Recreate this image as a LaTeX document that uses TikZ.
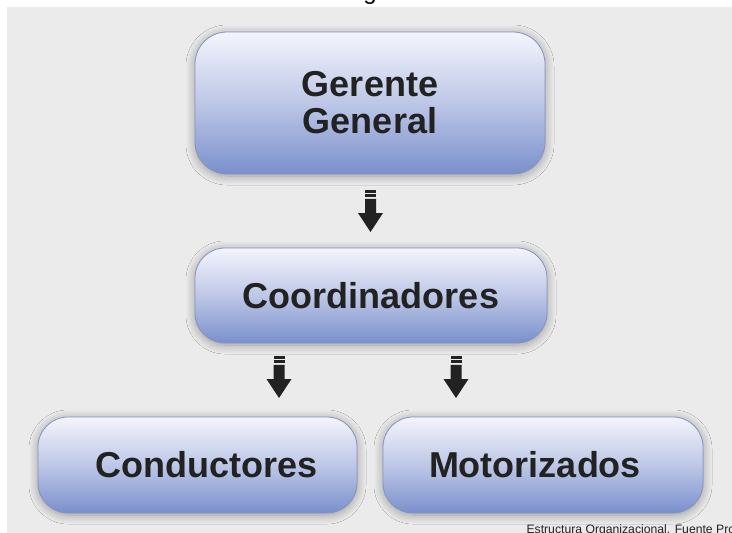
\documentclass[tikz,border=0pt]{standalone}
\usepackage{fontspec}
\setmainfont{Liberation Sans}
\usetikzlibrary{shadows.blur,calc}
\definecolor{panel}{HTML}{EBEBEB}
\definecolor{boxtop}{HTML}{F4F4FC}
\definecolor{boxbot}{HTML}{7A90CC}
\definecolor{boxline}{HTML}{8393C2}
\definecolor{ink}{HTML}{222222}
\tikzset{
  orgbox/.style={rounded corners=32pt, draw=boxline, line width=0.8pt,
    top color=boxtop, bottom color=boxbot, middle color=boxtop!55!boxbot,
    blur shadow={shadow blur steps=12, shadow xshift=0pt, shadow yshift=-2pt,
      shadow blur radius=9pt, shadow opacity=35},
    font=\fontsize{36}{37}\selectfont\bfseries, text=ink, align=center,
    inner sep=0pt},
  stripearrow/.pic={
    \fill[ink] (-5.5,0) rectangle (5.5,2.6);
    \fill[ink] (-5.5,4.2) rectangle (5.5,7.2);
    \fill[ink] (-5.5,8.8) -- (5.5,8.8) -- (5.5,23) -- (12.5,23) -- (0,42)
       -- (-12.5,23) -- (-5.5,23) -- cycle;
  }
}
\begin{document}
\begin{tikzpicture}[x=1pt,y=-1pt]
\useasboundingbox (0,0) rectangle (732,533);
\fill[white] (0,0) rectangle (732,533);
\fill[panel] (7,7) rectangle (732,533);
\begin{scope}
\clip (0,0) rectangle (732,533);
\node[font=\fontsize{24}{24}\selectfont, text=black, anchor=base] (topg) at (370,-1) {g};
\node[font=\fontsize{12.2}{13}\selectfont, text=ink, anchor=base west] (cap) at (523,533.5) {Estructura Organizacional. Fuente Propia};
\end{scope}

\node[orgbox, minimum width=350pt, minimum height=142pt] (ger) at (370,103) {Gerente\\General};
\node[orgbox, minimum width=352pt, minimum height=95pt, rounded corners=30pt] (coo) at (371,295.5) {Coordinadores};
\node[orgbox, minimum width=319pt, minimum height=96pt, rounded corners=30pt] (con) at (197.5,465) {\hspace*{19pt}Conductores};
\node[orgbox, minimum width=320pt, minimum height=96pt, rounded corners=30pt] (mot) at (543,465) {Motorizados\hspace*{16pt}};

\coordinate (a1) at (370.5,190);
\coordinate (a2) at (279,356);
\coordinate (a3) at (456,356);
\pic at (a1) {stripearrow};
\pic at (a2) {stripearrow};
\pic at (a3) {stripearrow};
\end{tikzpicture}
\end{document}
